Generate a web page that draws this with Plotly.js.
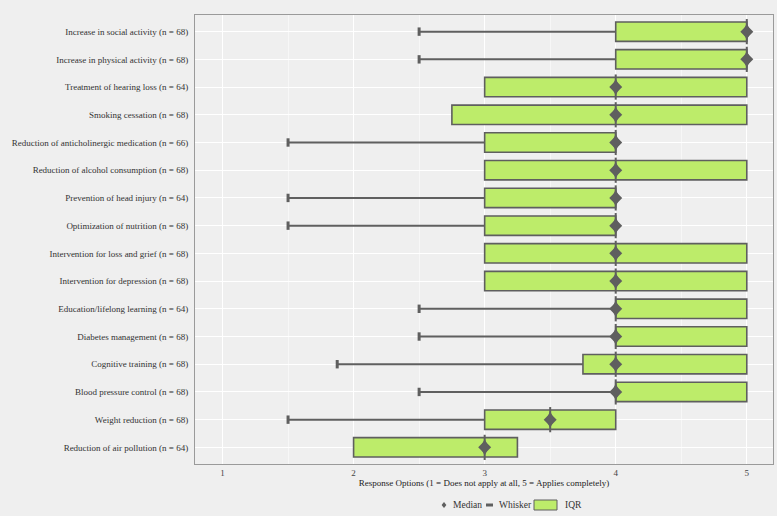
<!DOCTYPE html>
<html>
<head>
<meta charset="utf-8">
<script src="https://cdn.plot.ly/plotly-3.0.1.min.js"></script>
<style>
  html, body { margin: 0; padding: 0; background: #efefef; }
  #chart { width: 777px; height: 516px; }
</style>
</head>
<body>
<div id="chart"></div>
<script>
// Dementia risk-factor interventions, rated 1-5 (top to bottom)
const categories = [
  "Increase in social activity (n = 68)",
  "Increase in physical activity (n = 68)",
  "Treatment of hearing loss (n = 64)",
  "Smoking cessation (n = 68)",
  "Reduction of anticholinergic medication (n = 66)",
  "Reduction of alcohol consumption (n = 68)",
  "Prevention of head injury (n = 64)",
  "Optimization of nutrition (n = 68)",
  "Intervention for loss and grief (n = 68)",
  "Intervention for depression (n = 68)",
  "Education/lifelong learning (n = 64)",
  "Diabetes management (n = 68)",
  "Cognitive training (n = 68)",
  "Blood pressure control (n = 68)",
  "Weight reduction (n = 68)",
  "Reduction of air pollution (n = 64)"
];
const q1     = [4, 4, 3, 2.75, 3, 3, 3, 3, 3, 3, 4, 4, 3.75, 4, 3, 2];
const q3     = [5, 5, 5, 5,    4, 5, 4, 4, 5, 5, 5, 5, 5,    5, 4, 3.25];
const median = [5, 5, 4, 4,    4, 4, 4, 4, 4, 4, 4, 4, 4,    4, 3.5, 3];
// lower whisker end (null = not drawn)
const whiskerLow = [2.5, 2.5, null, null, 1.5, null, 1.5, 1.5, null, null, 2.5, 2.5, 1.875, 2.5, 1.5, null];

const xTickVals = [1, 2, 3, 4, 5];
const legendLabels = ["Median", "Whisker", "IQR"];

const GREY = "#5f5f5f";
const GREEN = "#bdec6a";
const FONT = "Liberation Serif";

// whisker segments from the lower end to the first quartile
const wx = [], wy = [], capX = [], capY = [];
categories.forEach((c, i) => {
  if (whiskerLow[i] !== null) {
    wx.push(whiskerLow[i], q1[i], null);
    wy.push(c, c, null);
    capX.push(whiskerLow[i]);
    capY.push(c);
  }
});

const iqr = q3.map((v, i) => v - q1[i]);

const traces = [
  {
    type: "scatter", mode: "lines", x: wx, y: wy,
    line: { color: GREY, width: 2 },
    name: "Whisker", hoverinfo: "skip"
  },
  {
    type: "scatter", mode: "markers", x: capX, y: capY,
    marker: { symbol: "line-ns", size: 6, line: { color: GREY, width: 3 } },
    name: "Whisker", hoverinfo: "skip"
  },
  {
    type: "bar", orientation: "h", y: categories, x: iqr, base: q1,
    width: 0.7,
    marker: { color: GREEN, line: { color: GREY, width: 1.6 } },
    name: "IQR", hoverinfo: "skip"
  },
  {
    type: "scatter", mode: "markers", x: median, y: categories,
    marker: { symbol: "line-ns", size: 18, line: { color: GREY, width: 2 } },
    hoverinfo: "skip"
  },
  // median diamond: a square diamond and a tall one stacked
  {
    type: "scatter", mode: "markers", x: median, y: categories,
    marker: { symbol: "diamond", size: 10, color: GREY },
    name: "Median"
  },
  {
    type: "scatter", mode: "markers", x: median, y: categories,
    marker: { symbol: "diamond-tall", size: 12, color: GREY },
    name: "Median"
  }
];

// legend below the axis title, built in paper coordinates
const plotL = 195, plotR = 773, plotT = 15, plotB = 464;
const px = v => (v - plotL) / (plotR - plotL);
const py = v => (plotB - v) / (plotB - plotT);
const legY = 505;

const shapes = [
  {
    type: "path", xref: "paper", yref: "paper",
    path: `M ${px(444)} ${py(legY - 3)} L ${px(446.4)} ${py(legY)} L ${px(444)} ${py(legY + 3)} L ${px(441.6)} ${py(legY)} Z`,
    fillcolor: GREY, line: { width: 0 }
  },
  {
    type: "rect", xref: "paper", yref: "paper",
    x0: px(486), x1: px(493), y0: py(legY - 1.5), y1: py(legY + 1.5),
    fillcolor: GREY, line: { width: 0 }
  },
  {
    type: "rect", xref: "paper", yref: "paper",
    x0: px(534), x1: px(557), y0: py(legY - 5), y1: py(legY + 5),
    fillcolor: GREEN, line: { color: GREY, width: 1 }
  }
];

const legX = [451, 497, 563];
const annotations = legendLabels.map((t, i) => ({
  text: t, xref: "paper", yref: "paper",
  x: px(legX[i]), y: py(legY), xanchor: "left", yanchor: "middle",
  showarrow: false, font: { family: FONT, size: 9.5, color: "#333333" }
}));

const layout = {
  width: 777, height: 516,
  margin: { l: plotL, r: 777 - plotR, t: plotT, b: 516 - plotB },
  paper_bgcolor: "#efefef",
  plot_bgcolor: "#efefef",
  font: { family: FONT, size: 9, color: "#333333" },
  barmode: "overlay",
  showlegend: false,
  shapes: shapes,
  annotations: annotations,
  xaxis: {
    range: [0.79, 5.2],
    tickvals: xTickVals,
    ticktext: xTickVals.map(String),
    showgrid: true, gridcolor: "#ffffff", gridwidth: 1,
    minor: { dtick: 0.5, showgrid: true, gridcolor: "#f7f7f7", gridwidth: 1 },
    zeroline: false,
    showline: true, mirror: true, linecolor: "#9a9a9a", linewidth: 1,
    ticks: "", ticklabelstandoff: 0,
    tickfont: { family: FONT, size: 9, color: "#444444" },
    title: {
      text: "Response Options (1 = Does not apply at all, 5 = Applies completely)",
      font: { family: FONT, size: 9, color: "#222222" },
      standoff: 1
    },
    fixedrange: true
  },
  yaxis: {
    type: "category",
    categoryorder: "array", categoryarray: categories,
    range: [categories.length - 0.4, -0.6],
    showgrid: true, gridcolor: "#ffffff", gridwidth: 1,
    zeroline: false,
    showline: true, mirror: true, linecolor: "#9a9a9a", linewidth: 1,
    ticks: "", ticklabelstandoff: 4,
    tickfont: { family: FONT, size: 9, color: "#333333" },
    fixedrange: true
  }
};

Plotly.newPlot("chart", traces, layout, { displayModeBar: false, staticPlot: true });
</script>
</body>
</html>
